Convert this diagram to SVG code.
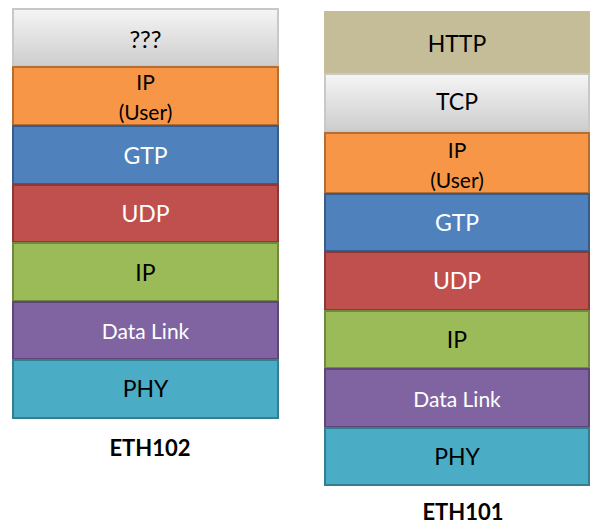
<svg xmlns="http://www.w3.org/2000/svg" width="590" height="525" viewBox="0 0 590 525">
<defs>
<linearGradient id="gray" x1="0" y1="0" x2="0" y2="1">
<stop offset="0" stop-color="#f5f5f5"/>
<stop offset="1" stop-color="#cdcdcd"/>
</linearGradient>
<style>
rect{stroke-width:2}
text{font-family:Lato,"Open Sans","Liberation Sans",sans-serif;text-anchor:middle;dominant-baseline:central}
.lbl{font-size:23px;fill:#000}
.q{font-size:24px;fill:#000}
.sm{font-size:21px;fill:#000}
.wh{font-size:23px;fill:#fff}
.whs{font-size:21px;fill:#fff}
.cap{font-size:22px;font-weight:bold;fill:#000}
.gr{fill:url(#gray);stroke:#c8c8c8}
.or{fill:#f79646;stroke:#b66d31}
.bl{fill:#4f81bd;stroke:#385d8a}
.rd{fill:#c0504d;stroke:#8c3836}
.gn{fill:#9bbb59;stroke:#71893f}
.pu{fill:#8064a2;stroke:#5c4776}
.cy{fill:#4bacc6;stroke:#357d91}
.tn{fill:#c4bd97;stroke:#c4bd97}
</style>
</defs>
<g id="eth102">
<g id="l-unknown"><rect class="gr" x="13" y="9" width="265" height="57"/><text class="q" x="145.5" y="38">???</text></g>
<g id="l-ipuser"><rect class="or" x="13" y="67" width="265" height="58"/><text class="sm" x="145.5" y="81">IP</text><text class="sm" x="145.5" y="111">(User)</text></g>
<g id="l-gtp"><rect class="bl" x="13" y="126" width="265" height="58"/><text class="wh" x="145.5" y="155">GTP</text></g>
<g id="l-udp"><rect class="rd" x="13" y="185" width="265" height="57"/><text class="wh" x="145.5" y="213">UDP</text></g>
<g id="l-ip"><rect class="gn" x="13" y="243" width="265" height="58"/><text class="lbl" x="145.5" y="272">IP</text></g>
<g id="l-dl"><rect class="pu" x="13" y="302" width="265" height="57"/><text class="whs" x="145.5" y="330">Data Link</text></g>
<g id="l-phy"><rect class="cy" x="13" y="360" width="265" height="58"/><text class="lbl" x="145.5" y="388">PHY</text></g>
<text class="cap" x="150" y="447">ETH102</text>
</g>
<g id="eth101">
<g id="r-http"><rect class="tn" x="325" y="12" width="264" height="61"/><text class="lbl" x="457" y="43">HTTP</text></g>
<g id="r-tcp"><rect class="gr" x="325" y="74" width="264" height="57"/><text class="lbl" x="457" y="101">TCP</text></g>
<g id="r-ipuser"><rect class="or" x="325" y="133" width="264" height="60"/><text class="sm" x="457" y="149">IP</text><text class="sm" x="457" y="179">(User)</text></g>
<g id="r-gtp"><rect class="bl" x="325" y="194" width="264" height="57"/><text class="wh" x="457" y="222">GTP</text></g>
<g id="r-udp"><rect class="rd" x="325" y="252" width="264" height="58"/><text class="wh" x="457" y="280">UDP</text></g>
<g id="r-ip"><rect class="gn" x="325" y="311" width="264" height="57"/><text class="lbl" x="457" y="339">IP</text></g>
<g id="r-dl"><rect class="pu" x="325" y="369" width="264" height="58"/><text class="whs" x="457" y="398">Data Link</text></g>
<g id="r-phy"><rect class="cy" x="325" y="428" width="264" height="57"/><text class="lbl" x="457" y="456">PHY</text></g>
<text class="cap" x="463" y="511">ETH101</text>
</g>
<g id="connectors"></g>
</svg>
